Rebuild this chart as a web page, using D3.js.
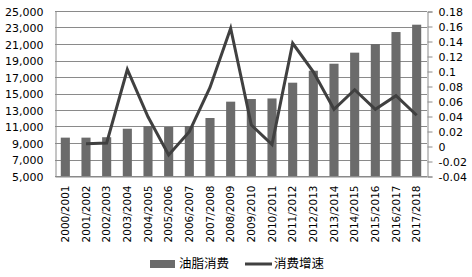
<!DOCTYPE html>
<html>
<head>
<meta charset="utf-8">
<script src="https://cdn.jsdelivr.net/npm/d3@7"></script>
<style>
  body { margin: 0; background: #fff; }
  text { font-family: "DejaVu Sans", Verdana, sans-serif; fill: #000; }
</style>
</head>
<body>
<script>
"use strict";
(function(){
    // data
    const seasons = ["2000/2001", "2001/2002", "2002/2003", "2003/2004", "2004/2005", "2005/2006",
        "2006/2007", "2007/2008", "2008/2009", "2009/2010", "2010/2011", "2011/2012",
        "2012/2013", "2013/2014", "2014/2015", "2015/2016", "2016/2017", "2017/2018"];
    const consumption = [9650, 9650, 9700, 10730, 11060, 10940, 11060, 12030, 14010, 14330,
        14400, 16310, 17760, 18610, 19950, 21000, 22450, 23340];
    const growth = [null, 0.003, 0.004, 0.102, 0.039, -0.012, 0.019, 0.078, 0.157, 0.028,
        0.002, 0.137, 0.099, 0.049, 0.075, 0.049, 0.067, 0.041];
    const leftTicks = d3.range(5000, 25001, 2000);
    const rightTicks = d3.range(-0.04, 0.1801, 0.02);
    const legendNames = ["油脂消费", "消费增速"];

    const measurements = { width: 472, height: 277, left: 55, right: 427, top: 11, bottom: 176 };
    const barColor = "#6b6b6b";
    const lineColor = "#404040";

    const svg = d3.select("body").append("svg")
        .attr("width", measurements.width)
        .attr("height", measurements.height);

    const scaleX = d3.scaleBand()
        .domain(seasons)
        .range([measurements.left, measurements.right])
        .paddingInner(0.56)
        .paddingOuter(0.28);

    const scaleY = d3.scaleLinear()
        .domain([5000, 25000])
        .range([measurements.bottom, measurements.top]);

    const scaleY2 = d3.scaleLinear()
        .domain([-0.04, 0.18])
        .range([measurements.bottom, measurements.top]);

    // gridlines
    svg.append("g")
        .selectAll("line")
        .data(leftTicks)
        .enter()
        .append("line")
        .attr("x1", measurements.left)
        .attr("x2", measurements.right)
        .attr("y1", d => Math.round(scaleY(d)) + 0.5)
        .attr("y2", d => Math.round(scaleY(d)) + 0.5)
        .attr("stroke", "#8a8a8a")
        .attr("stroke-width", 1);

    // left axis
    const yAxis = d3.axisLeft(scaleY)
        .tickValues(leftTicks)
        .tickSize(0)
        .tickPadding(12)
        .tickFormat(d3.format(","));
    const gl = svg.append("g")
        .attr("transform", `translate(${measurements.left + 0.5},0.5)`)
        .call(yAxis);
    gl.select(".domain").attr("stroke", "#8a8a8a");
    gl.selectAll("text").style("font-size", "11px");

    // right axis
    const yAxis2 = d3.axisRight(scaleY2)
        .tickValues(rightTicks)
        .tickSize(5)
        .tickPadding(6)
        .tickFormat(d => String(+d.toFixed(2)));
    const gr = svg.append("g")
        .attr("transform", `translate(${measurements.right + 0.5},0.5)`)
        .call(yAxis2);
    gr.select(".domain").attr("stroke", "#8a8a8a");
    gr.selectAll("line").attr("stroke", "#8a8a8a");
    gr.selectAll("text").style("font-size", "11px");

    // bars
    svg.append("g")
        .selectAll("rect")
        .data(consumption)
        .enter()
        .append("rect")
        .attr("x", (d, i) => scaleX(seasons[i]))
        .attr("width", scaleX.bandwidth())
        .attr("y", d => scaleY(d))
        .attr("height", d => scaleY(5000) - scaleY(d))
        .attr("fill", barColor);

    // bottom axis
    const xAxis = d3.axisBottom(scaleX).tickSize(0).tickPadding(0);
    const gx = svg.append("g")
        .attr("transform", `translate(0,${measurements.bottom + 0.5})`)
        .call(xAxis);
    gx.select(".domain").attr("stroke", "#8a8a8a");
    gx.selectAll("text")
        .style("font-size", "10.5px")
        .attr("text-anchor", "end")
        .attr("transform", "rotate(-90)")
        .attr("x", -9)
        .attr("y", 0)
        .attr("dy", "0.35em");

    // line
    const line = d3.line()
        .defined(d => d !== null)
        .x((d, i) => scaleX(seasons[i]) + scaleX.bandwidth() / 2)
        .y(d => scaleY2(d));
    svg.append("path")
        .datum(growth)
        .attr("d", line)
        .attr("fill", "none")
        .attr("stroke", lineColor)
        .attr("stroke-width", 3)
        .attr("stroke-linejoin", "miter");

    // legend
    const legend = svg.append("g").attr("transform", "translate(0,264)");
    legend.append("rect")
        .attr("x", 150).attr("y", -4).attr("width", 25).attr("height", 8)
        .attr("fill", barColor);
    legend.append("text")
        .attr("x", 179).attr("y", 0).attr("dy", "0.35em")
        .style("font-size", "12.5px")
        .style("font-family", "'Noto Sans CJK SC', sans-serif")
        .text(legendNames[0]);
    legend.append("line")
        .attr("x1", 245).attr("x2", 272).attr("y1", 0).attr("y2", 0)
        .attr("stroke", lineColor).attr("stroke-width", 3);
    legend.append("text")
        .attr("x", 274).attr("y", 0).attr("dy", "0.35em")
        .style("font-size", "12.5px")
        .style("font-family", "'Noto Sans CJK SC', sans-serif")
        .text(legendNames[1]);
})()
</script>
</body>
</html>
